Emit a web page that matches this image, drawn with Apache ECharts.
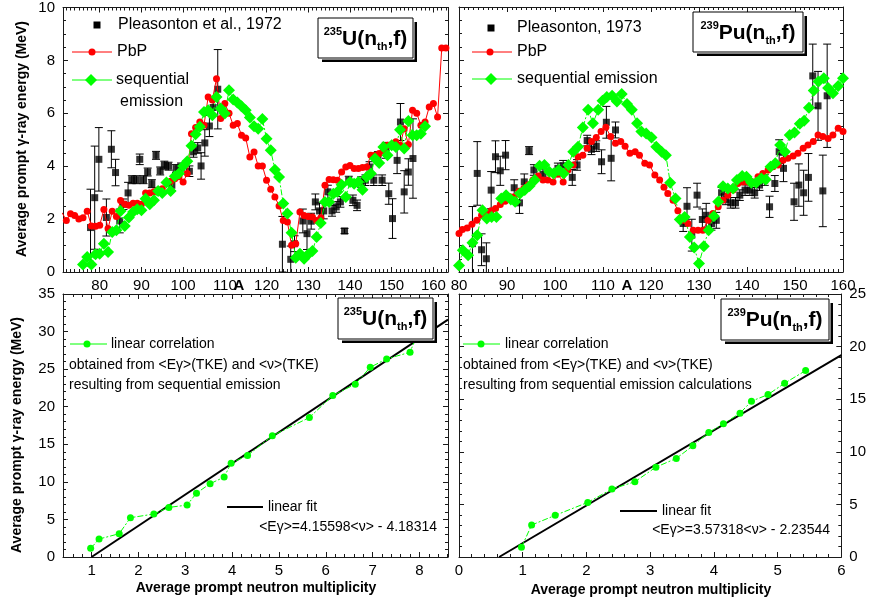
<!DOCTYPE html>
<html lang="en">
<head>
<meta charset="UTF-8">
<title>Prompt gamma-ray energy</title>
<script src="https://cdn.jsdelivr.net/npm/echarts@6/dist/echarts.min.js"></script>
<style>
    html, body { margin: 0; padding: 0; background: #fff; }
    #main { width: 869px; height: 602px; }
</style>
</head>
<body>
<div id="main"></div>
<script>
// ---- data ----
// top left: 235U(nth,f), average prompt gamma-ray energy vs fragment mass A
var uPleas = [ // [A, E, error]
    [77.8,1.68,1.45],[78.8,2.81,1.95],[79.8,4.26,1.2],[81.6,2.06,0.7],[82.8,4.64,0.7],[83.8,3.76,0.5],
    [84.8,1.93,0.45],[85.7,2.56,0.2],[86.8,2.99,0.4],[87.7,3.49,0.15],[88.8,3.49,0.15],[89.6,4.26,0.2],
    [90.5,3.49,0.15],[91.5,3.78,0.15],[92.5,3.34,0.15],[93.5,4.41,0.15],[94.5,3.82,0.15],[95.5,4.04,0.15],
    [96.5,4.0,0.15],[97.3,3.28,0.2],[98.3,3.91,0.15],[99.5,3.97,0.15],[101.5,3.81,0.2],[102.5,4.54,0.2],
    [103.5,4.69,0.2],[104.3,4.01,0.5],[105.2,4.88,0.5],[106.3,5.52,0.4],[107.2,6.22,0.3],[108.3,6.91,1.5],
    [123.8,1.05,1.05],[125.8,0.48,0.5],[126.7,1.07,0.3],[128.7,1.93,0.45],[129.7,1.45,0.6],[130.7,1.92,0.3],
    [131.7,2.65,0.3],[132.7,2.31,0.3],[133.7,2.31,0.3],[134.7,3.03,0.25],[135.7,2.31,0.2],[136.7,2.46,0.2],
    [137.7,2.65,0.2],[138.7,1.55,0.1],[139.7,3.47,0.15],[140.7,2.71,0.2],[141.7,2.52,0.2],[142.7,3.4,0.2],
    [143.7,3.47,0.2],[144.7,3.97,0.2],[145.7,3.47,0.2],[146.7,4.35,0.2],[147.7,3.47,0.2],[148.6,4.6,0.3],
    [149.3,2.96,0.4],[150.2,2.02,0.75],[151.3,4.22,0.5],[152.1,5.67,0.7],[153.0,3.03,0.8],[154.0,3.78,0.5],
    [155.1,4.29,1.5]
];
var uPbP = [
    [71,2.24],[72,1.95],[73,2.2],[74,2.14],[75,2.0],[76,2.05],[77,2.3],[78,1.74],[79,1.73],[80,1.77],
    [81,2.36],[82,1.64],[83,2.3],[84,2.1],[85,2.7],[86,2.56],[87,2.52],[88,2.6],[89,2.6],[90,2.56],
    [91,2.99],[92,2.99],[93,3.03],[94,3.1],[95,3.15],[96,3.4],[97,3.43],[98,3.53],[99,3.6],[100,3.4],
    [101,3.72],[102,5.23],[103,5.46],[104,5.67],[105,5.55],[106,6.62],[107,6.5],[108,7.31],[109,5.8],[110,6.37],
    [111,6.0],[112,5.55],[113,5.61],[114,5.17],[115,5.07],[116,4.35],[117,4.54],[118,4.01],[119,4.01],[120,3.47],
    [121,3.13],[122,2.84],[123,2.5],[124,1.95],[125,1.89],[126,1.01],[127,1.07],[128,2.27],[129,2.14],[130,2.1],
    [131,2.08],[132,1.95],[133,2.05],[134,3.28],[135,3.5],[136,3.49],[137,3.47],[138,3.78],[139,3.97],[140,4.03],
    [141,3.91],[142,3.91],[143,3.95],[144,3.97],[145,4.41],[146,4.41],[147,4.48],[148,4.6],[149,4.79],[150,4.79],
    [151,4.92],[152,4.79],[153,5.42],[154,4.82],[155,6.12],[156,6.0],[157,5.55],[158,5.67],[159,6.24],[160,6.37],
    [161,5.86],[162,8.47],[163,8.47]
];
var uSeq = [
    [76,0.28],[77,0.57],[78,0.28],[79,0.67],[80,0.69],[81,1.07],[82,0.76],[83,1.51],[84,1.58],[85,2.31],
    [86,1.74],[87,2.06],[88,2.27],[89,2.37],[90,2.33],[91,2.77],[92,2.56],[93,2.71],[94,3.06],[95,2.99],
    [96,3.38],[97,3.06],[98,3.62],[99,3.72],[100,4.01],[101,4.19],[102,4.77],[103,5.21],[104,5.49],[105,6.05],
    [106,6.12],[107,5.93],[108,6.62],[109,6.18],[110,5.99],[111,6.87],[112,6.52],[113,6.41],[114,6.27],[115,6.12],
    [116,5.84],[117,5.51],[118,5.42],[119,5.78],[120,5.04],[121,4.6],[122,3.87],[123,3.59],[124,2.59],[125,2.21],
    [126,1.48],[127,0.54],[128,0.69],[129,0.5],[130,0.67],[131,0.79],[132,1.32],[133,1.85],[134,2.65],[135,2.65],
    [136,2.96],[137,3.03],[138,3.3],[139,2.84],[140,3.4],[141,3.34],[142,3.4],[143,3.11],[144,3.59],[145,3.72],
    [146,4.29],[147,4.12],[148,4.73],[149,4.41],[150,4.79],[151,4.73],[152,5.38],[153,4.67],[154,5.71],[155,5.17],
    [156,5.17],[157,5.23],[158,5.51]
];

// top right: 239Pu(nth,f)
var puPleas = [ // [A, E, error]
    [82.8,1.07,1.4],[83.8,3.72,1.2],[84.7,0.84,0.6],[85.7,0.5,0.6],[86.7,3.09,0.7],[87.6,4.35,0.6],
    [88.6,3.82,0.55],[89.7,4.41,0.55],[91.5,3.18,0.3],[92.6,2.61,0.4],[93.6,3.4,0.3],[94.6,4.58,0.15],
    [95.6,3.85,0.2],[97.5,3.69,0.2],[100.6,3.91,0.2],[101.7,4.01,0.2],[103.6,3.57,0.3],[104.6,4.04,0.2],
    [106.7,4.96,0.2],[107.6,4.63,0.2],[108.6,4.75,0.2],[109.7,4.16,0.45],[110.7,5.65,0.6],[111.7,4.29,0.85],
    [112.6,5.36,0.3],[126.7,1.83,0.3],[127.5,2.48,0.7],[128.5,1.39,0.6],[129.6,2.9,0.45],[130.7,1.98,0.4],
    [131.5,2.14,0.45],[132.6,1.83,0.25],[133.6,1.95,0.3],[134.7,2.99,0.2],[135.6,2.74,0.2],[136.6,2.61,0.2],
    [137.6,2.61,0.2],[138.5,2.9,0.2],[139.6,3.09,0.2],[140.6,3.09,0.2],[141.6,2.99,0.2],[142.6,3.28,0.2],
    [143.7,3.47,0.2],[144.7,2.46,0.4],[145.8,3.34,0.3],[146.7,4.54,0.45],[147.6,3.91,0.5],[149.8,2.65,0.7],
    [150.8,3.28,0.8],[151.8,2.99,0.85],[152.8,3.57,0.9],[153.7,7.4,1.2],[154.8,6.27,1.3],[155.8,3.06,1.35],
    [156.7,6.65,1.95]
];
var puPbP = [
    [80,1.45],[80.7,1.6],[81.7,1.66],[82.7,1.8],[83.7,1.95],[84.7,2.14],[85.7,2.23],[86.7,2.31],[87.6,2.4],[88.6,2.55],
    [89.6,2.67],[90.6,2.84],[91.5,2.84],[92.5,3.05],[93.5,3.15],[94.4,3.28],[95.4,3.47],[96.5,3.62],[97.5,3.47],[98.5,3.47],
    [99.6,3.4],[100.6,3.69],[101.7,3.4],[102.7,3.85],[103.8,4.04],[104.8,4.35],[105.8,4.41],[106.7,4.67],[107.6,4.92],[108.6,5.08],
    [109.6,5.3],[110.6,5.46],[111.6,5.11],[112.6,4.86],[113.7,4.92],[114.6,4.75],[115.6,4.48],[116.7,4.54],[117.6,4.41],[118.7,4.1],
    [119.7,4.04],[120.8,3.66],[121.8,3.47],[122.7,3.2],[123.5,2.96],[124.6,2.71],[125.6,2.31],[126.7,1.95],[127.7,1.83],[128.8,1.58],
    [129.8,1.58],[130.8,1.58],[131.9,1.95],[132.9,2.21],[134.0,2.46],[135.0,2.71],[136.0,2.9],[137.1,3.09],[138.1,3.34],[139.2,3.4],
    [140.2,3.4],[141.3,3.4],[142.3,3.59],[143.3,3.72],[144.4,3.85],[145.4,3.97],[146.5,4.04],[147.5,4.22],[148.5,4.29],[149.6,4.38],
    [150.6,4.48],[151.7,4.67],[152.7,4.79],[153.8,4.92],[154.8,5.17],[155.8,5.11],[156.9,5.04],[157.9,5.17],[159.0,5.42],[160.0,5.3]
];
var puSeq = [
    [80.0,0.25],[80.8,0.82],[81.9,0.63],[82.8,1.1],[83.8,1.39],[84.9,2.33],[85.8,2.02],[86.8,2.08],[87.8,2.08],[88.8,2.77],
    [89.8,2.9],[90.8,2.74],[91.7,2.65],[92.7,2.96],[93.7,3.09],[94.7,3.25],[95.8,3.47],[96.8,4.01],[97.8,4.04],[98.8,3.78],
    [99.7,3.72],[100.8,3.85],[101.8,3.72],[102.8,4.04],[103.8,4.54],[104.8,4.73],[105.8,5.45],[106.9,6.12],[107.9,5.61],[109.0,6.12],
    [109.9,6.46],[110.8,6.6],[111.9,6.65],[112.9,6.43],[113.9,6.72],[115.0,6.34],[116.0,6.12],[117.1,5.61],[118.0,5.3],[119.0,5.23],
    [120.1,5.08],[121.1,4.73],[122.2,4.54],[123.1,4.41],[124.0,3.37],[125.1,2.77],[126.0,1.98],[127.0,2.08],[128.1,1.32],[129.0,0.92],
    [130.0,0.32],[131.0,0.97],[132.0,1.58],[133.1,2.1],[134.0,2.65],[135.0,3.24],[136.0,3.15],[137.1,3.15],[137.9,3.47],[139.0,3.62],
    [139.9,3.59],[140.9,3.37],[141.9,3.37],[143.0,3.53],[143.9,3.49],[144.9,3.97],[145.9,4.1],[146.9,4.79],[147.9,4.54],[148.9,5.17],
    [149.9,5.26],[151.0,5.59],[151.9,5.71],[152.9,6.2],[153.9,6.85],[154.9,7.19],[156.0,7.31],[156.9,6.94],[157.9,6.75],[159.0,7.02],
    [160.0,7.31]
];

// bottom: total prompt gamma-ray energy vs average neutron multiplicity
var uCorr = [
    [0.98,1.15],[1.16,2.39],[1.59,3.1],[1.83,5.23],[2.33,5.72],[2.65,6.6],[3.04,6.91],[3.24,8.5],[3.53,9.75],[3.83,10.63],
    [3.98,12.49],[4.33,13.51],[4.86,16.13],[5.65,18.56],[6.15,21.49],[6.63,23.0],[6.95,25.25],[7.3,26.36],[7.8,27.25],[7.93,29.3]
];
var uFit = [[1.0,0],[8.61,31.6]];
var puCorr = [
    [0.98,0.92],[1.14,3.04],[1.51,3.96],[2.02,5.19],[2.4,6.46],[2.76,7.15],[3.09,8.54],[3.41,9.37],[3.67,10.57],[3.92,11.84],
    [4.15,12.66],[4.41,13.67],[4.59,14.81],[4.85,15.44],[5.11,16.52],[5.44,17.72]
];
var puFit = [[0.63,0],[6.0,19.2]];

var FONT = '"Liberation Sans", Arial, sans-serif';
var RED = '#ff0000', GREEN = '#00ff00', INK = '#1a1a1a';

var chart = echarts.init(document.getElementById('main'));

function tickFmt(step) {
    return function (v) {
        var k = v / step;
        return Math.abs(k - Math.round(k)) < 1e-6 ? String(Math.round(v * 1000) / 1000) : '';
    };
}

function axis(grid, pos, min, max, step, minor, labels, margin) {
    return {
        type: 'value', gridIndex: grid, position: pos, min: min, max: max,
        minInterval: step, maxInterval: step, splitNumber: Math.round((max - min) / step),
        axisLine: {show: true, onZero: false, lineStyle: {color: INK, width: 1}},
        axisTick: {show: true, inside: true, length: 5, lineStyle: {color: INK}},
        minorTick: {show: true, splitNumber: minor, length: 3, lineStyle: {color: INK}},
        splitLine: {show: false},
        axisLabel: {show: labels, formatter: tickFmt(step), margin: margin, color: '#000', fontSize: 15, fontFamily: FONT}
    };
}

function errRender(params, api) {
    var a = api.value(0), e = api.value(1), d = api.value(2);
    var hi = api.coord([a, e + d]), lo = api.coord([a, e - d]);
    var c = 4, st = {stroke: '#000', lineWidth: 1};
    return {type: 'group', children: [
        {type: 'line', shape: {x1: hi[0], y1: hi[1], x2: lo[0], y2: lo[1]}, style: st},
        {type: 'line', shape: {x1: hi[0] - c, y1: hi[1], x2: hi[0] + c, y2: hi[1]}, style: st},
        {type: 'line', shape: {x1: lo[0] - c, y1: lo[1], x2: lo[0] + c, y2: lo[1]}, style: st}
    ]};
}

function expSeries(data, xi, yi) {
    return [
        {type: 'custom', xAxisIndex: xi, yAxisIndex: yi, data: data, renderItem: errRender, clip: true,
         encode: {x: 0, y: 1}, silent: true},
        {type: 'scatter', xAxisIndex: xi, yAxisIndex: yi, data: data, symbol: 'rect', symbolSize: 7,
         itemStyle: {color: '#000'}, encode: {x: 0, y: 1}, silent: true}
    ];
}

function lineSeries(data, xi, yi, color, symbol, size, dash, width) {
    return {type: 'line', xAxisIndex: xi, yAxisIndex: yi, data: data, symbol: symbol, symbolSize: size,
        showSymbol: true, clip: true, silent: true,
        lineStyle: {color: color, width: width || 1, type: dash || 'solid'},
        itemStyle: {color: color, borderWidth: 0}};
}

var dashDot = [6, 2, 2, 2];
var series = []
    .concat(expSeries(uPleas, 0, 0))
    .concat([lineSeries(uPbP, 0, 0, RED, 'circle', 7), lineSeries(uSeq, 0, 0, GREEN, 'diamond', 12, dashDot)])
    .concat(expSeries(puPleas, 2, 2))
    .concat([lineSeries(puPbP, 2, 2, RED, 'circle', 7), lineSeries(puSeq, 2, 2, GREEN, 'diamond', 12, dashDot)])
    .concat([
        lineSeries(uFit, 4, 4, '#000', 'none', 0, 'solid', 2),
        lineSeries(uCorr, 4, 4, GREEN, 'circle', 7, dashDot),
        lineSeries(puFit, 6, 7, '#000', 'none', 0, 'solid', 2),
        lineSeries(puCorr, 6, 7, GREEN, 'circle', 7, dashDot)
    ]);

// ---- legends, labels and reaction boxes ----
function txt(x, y, s, size, opts) {
    opts = opts || {};
    return {type: 'text', x: x, y: y, rotation: opts.rot || 0, z: 20,
        style: {text: s, fill: '#000', font: (opts.bold ? 'bold ' : '') + size + 'px ' + FONT,
            align: opts.align || 'left', textAlign: opts.align || 'left',
            verticalAlign: 'middle', textVerticalAlign: 'middle'}};
}
function hline(x1, x2, y, color, w) {
    return {type: 'line', z: 20, shape: {x1: x1, y1: y, x2: x2, y2: y}, style: {stroke: color, lineWidth: w || 1}};
}
function dot(cx, cy, color) {
    return {type: 'circle', z: 21, shape: {cx: cx, cy: cy, r: 3.5}, style: {fill: color}};
}
function diamond(cx, cy) {
    return {type: 'polygon', z: 21, shape: {points: [[cx, cy - 6], [cx + 6, cy], [cx, cy + 6], [cx - 6, cy]]}, style: {fill: GREEN}};
}
function square(cx, cy) {
    return {type: 'rect', z: 21, shape: {x: cx - 3.5, y: cy - 3.5, width: 7, height: 7}, style: {fill: '#000'}};
}
function reactionBox(x, y, w, h, sup, main) {
    return {type: 'group', z: 30, children: [
        {type: 'rect', z: 30, shape: {x: x + 4, y: y + 4, width: w, height: h}, style: {fill: '#000'}},
        {type: 'rect', z: 31, shape: {x: x, y: y, width: w + 1.5, height: h + 1.5}, style: {fill: '#fff'}},
        {type: 'rect', z: 32, shape: {x: x, y: y, width: w, height: h}, style: {fill: '#fff', stroke: '#000', lineWidth: 1}},
        {type: 'text', z: 33, x: x + w / 2, y: y + h / 2 + 1, style: {
            text: '{s|' + sup + '}{m|' + main + '(n}{d|th}{m|,f)}',
            align: 'center', textAlign: 'center', verticalAlign: 'middle', textVerticalAlign: 'middle',
            rich: {
                s: {fontSize: 11, fontWeight: 'bold', fontFamily: FONT, verticalAlign: 'top', lineHeight: 26, padding: [0, 0, 12, 0]},
                m: {fontSize: 21, fontWeight: 'bold', fontFamily: FONT, lineHeight: 26},
                d: {fontSize: 11, fontWeight: 'bold', fontFamily: FONT, verticalAlign: 'bottom', lineHeight: 26, padding: [10, 0, 0, 0]}
            }}}
    ]};
}

var graphics = [
    // top left legend
    square(97, 25), txt(118, 25, 'Pleasonton et al., 1972', 16),
    hline(72, 112, 52, RED), dot(92, 52, RED), txt(117, 52, 'PbP', 16),
    hline(72, 112, 80, GREEN), diamond(91, 80), txt(116, 80, 'sequential', 16), txt(120, 102, 'emission', 16),
    // top right legend
    square(491, 28), txt(517, 28, 'Pleasonton, 1973', 16),
    hline(472, 512, 52, RED), dot(490, 52, RED), txt(517, 52, 'PbP', 16),
    hline(472, 512, 79, GREEN), diamond(491, 79), txt(517, 79, 'sequential emission', 16),
    // bottom left legend
    hline(70, 107, 344, GREEN), dot(87, 344, GREEN), txt(111, 344, 'linear correlation', 14),
    txt(69, 365, 'obtained from <Eγ>(TKE) and <ν>(TKE)', 14),
    txt(69, 385, 'resulting from sequential emission', 14),
    hline(227, 263, 507, '#000', 2), txt(268, 507, 'linear fit', 14),
    txt(437, 527, '<Eγ>=4.15598<ν> - 4.18314', 14, {align: 'right'}),
    // bottom right legend
    hline(463, 500, 344, GREEN), dot(481, 344, GREEN), txt(505, 344, 'linear correlation', 14),
    txt(463, 365, 'obtained from <Eγ>(TKE) and <ν>(TKE)', 14),
    txt(463, 385, 'resulting from sequential emission calculations', 14),
    hline(620, 657, 511, '#000', 2), txt(662, 511, 'linear fit', 14),
    txt(830, 530, '<Eγ>=3.57318<ν> - 2.23544', 14, {align: 'right'}),
    // axis titles
    txt(22, 139, 'Average prompt γ-ray energy (MeV)', 14, {bold: true, align: 'center', rot: Math.PI / 2}),
    txt(17, 435, 'Average prompt γ-ray energy (MeV)', 14, {bold: true, align: 'center', rot: Math.PI / 2}),
    txt(239, 286, 'A', 15, {bold: true, align: 'center'}),
    txt(627, 286, 'A', 15, {bold: true, align: 'center'}),
    txt(256, 588, 'Average prompt neutron multiplicity', 14, {bold: true, align: 'center'}),
    txt(651, 590, 'Average prompt neutron multiplicity', 14, {bold: true, align: 'center'}),
    // reaction labels
    reactionBox(318, 18, 95, 40, '235', 'U'),
    reactionBox(693, 12, 110, 40, '239', 'Pu'),
    reactionBox(338, 298, 95, 41, '235', 'U'),
    reactionBox(721, 299, 108, 41, '239', 'Pu')
];

chart.setOption({
    backgroundColor: '#fff',
    animation: false,
    grid: [
        {left: 63, top: 7, width: 385, height: 265},
        {left: 459, top: 7, width: 384, height: 265},
        {left: 63, top: 294, width: 385, height: 263},
        {left: 459, top: 294, width: 384, height: 263}
    ],
    xAxis: [
        axis(0, 'bottom', 71.2, 163.5, 10, 10, true, 6),
        axis(0, 'top', 71.2, 163.5, 10, 10, false, 6),
        axis(1, 'bottom', 80, 160, 10, 10, true, 6),
        axis(1, 'top', 80, 160, 10, 10, false, 6),
        axis(2, 'bottom', 0.39, 8.61, 1, 5, true, 6),
        axis(2, 'top', 0.39, 8.61, 1, 5, false, 6),
        axis(3, 'bottom', 0, 6, 1, 5, true, 6),
        axis(3, 'top', 0, 6, 1, 5, false, 6)
    ],
    yAxis: [
        axis(0, 'left', 0, 10, 2, 4, true, 8),
        axis(0, 'right', 0, 10, 2, 4, false, 8),
        axis(1, 'left', 0, 10, 2, 4, false, 8),
        axis(1, 'right', 0, 10, 2, 4, false, 8),
        axis(2, 'left', 0, 35, 5, 5, true, 8),
        axis(2, 'right', 0, 35, 5, 5, false, 8),
        axis(3, 'left', 0, 25, 5, 5, false, 8),
        axis(3, 'right', 0, 25, 5, 5, true, 8)
    ],
    series: series,
    graphic: {elements: graphics}
});
</script>
</body>
</html>
